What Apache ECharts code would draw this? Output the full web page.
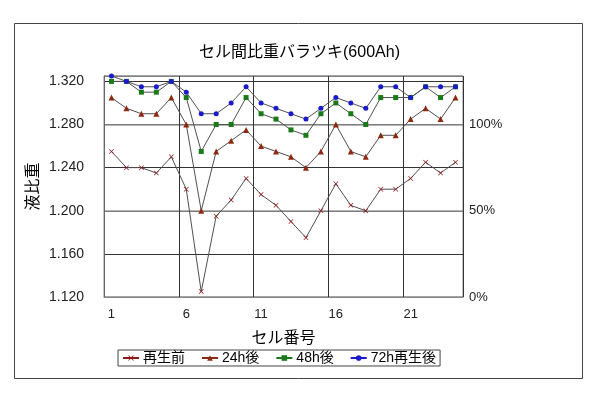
<!DOCTYPE html>
<html><head><meta charset="utf-8">
<script src="https://cdn.jsdelivr.net/npm/echarts@6/dist/echarts.min.js"></script>
<style>html,body{margin:0;padding:0;background:#fff}#c{width:599px;height:393px}</style>
</head><body><div id="c"></div>
<script>
const cells = ['1','2','3','4','5','6','7','8','9','10','11','12','13','14','15','16','17','18','19','20','21','22','23','24'];
const before = [1.255,1.240,1.240,1.235,1.250,1.220,1.125,1.195,1.210,1.230,1.215,1.205,1.190,1.175,1.200,1.225,1.205,1.200,1.220,1.220,1.230,1.245,1.235,1.245];
const h24 = [1.305,1.295,1.290,1.290,1.305,1.280,1.200,1.255,1.265,1.275,1.260,1.255,1.250,1.240,1.255,1.280,1.255,1.250,1.270,1.270,1.285,1.295,1.285,1.305];
const h48 = [1.320,1.320,1.310,1.310,1.320,1.305,1.255,1.280,1.280,1.305,1.290,1.285,1.275,1.270,1.290,1.300,1.290,1.280,1.305,1.305,1.305,1.315,1.305,1.315];
const h72 = [1.325,1.320,1.315,1.315,1.320,1.310,1.290,1.290,1.300,1.315,1.300,1.295,1.290,1.285,1.295,1.305,1.300,1.295,1.315,1.315,1.305,1.315,1.315,1.315];
const seriesNames = ['再生前','24h後','48h後','72h再生後'];
const rightTicks = [0,50,100];

const FONT = "'Liberation Sans', 'Noto Sans CJK JP', sans-serif";
const xPath = 'path://M0,1L1,0L5,4L9,0L10,1L6,5L10,9L9,10L5,6L1,10L0,9L4,5Z';
const colors = ['#8b1a1a','#8b2a10','#1a7a1a','#1a1acc'];
const symbols = [xPath,'triangle','rect','circle'];
const sizes = [5,6,5,5];
const datas = [before,h24,h48,h72];

const chart = echarts.init(document.getElementById('c'));
const series = datas.map((d,i)=>({
  name: seriesNames[i], type:'line', data:d, yAxisIndex:0,
  symbol: symbols[i], symbolSize: sizes[i], showSymbol:true, clip:false,
  itemStyle:{color:colors[i]},
  lineStyle:{color:'#505050', width:1},
  z: 2+i
}));
chart.setOption({
  backgroundColor:'#fff',
  animation:false,
  title:{text:'セル間比重バラツキ(600Ah)', left:'center', top:40,
    textStyle:{fontFamily:FONT, fontSize:16, fontWeight:'normal', color:'#000'}},
  legend:{left:118, top:350, itemWidth:16, itemHeight:7, itemGap:16,
    padding:[1,4,1,4], borderColor:'#444', borderWidth:1,
    textStyle:{fontFamily:FONT, fontSize:14, color:'#000', padding:[0,0,0,-1]},
    data: seriesNames.map((n,i)=>({name:n, lineStyle:{color:colors[i]}}))},
  grid:{left:104, right:136, top:76, bottom:96, show:true, borderColor:'#888', borderWidth:1},
  graphic:[{type:'rect', shape:{x:14.5,y:23.5,width:568,height:355}, style:{fill:null, stroke:'#444', lineWidth:1}, silent:true}],
  xAxis:{type:'category', data:cells, boundaryGap:true,
    name:'セル番号', nameLocation:'middle', nameGap:34,
    nameTextStyle:{fontFamily:FONT, fontSize:16, color:'#000'},
    axisLine:{lineStyle:{color:'#888'}}, axisTick:{show:false},
    axisLabel:{interval:(i)=>i%5===0, margin:11, fontFamily:FONT, fontSize:13, color:'#222'},
    splitLine:{show:true, interval:(i)=>i%5===0, lineStyle:{color:'#333', width:1}}},
  yAxis:[{type:'value', min:1.12, max:1.325, interval:0.04,
    name:'液比重', nameLocation:'middle', nameGap:62, nameRotate:90, nameMoveOverlap:false,
    nameTextStyle:{fontFamily:FONT, fontSize:16, color:'#000'},
    axisLine:{show:true, lineStyle:{color:'#666'}}, axisTick:{show:false},
    axisLabel:{formatter:(v)=>v.toFixed(3), margin:20, fontFamily:FONT, fontSize:14, color:'#222', showMaxLabel:false},
    splitLine:{show:true, lineStyle:{color:'#333', width:1}}},
   {type:'value', min:0, max:128.125, interval:50, position:'right',
    axisLine:{show:false}, axisTick:{show:false},
    axisLabel:{formatter:(v)=>rightTicks.indexOf(v)>=0? v+'%':'', margin:6, fontFamily:FONT, fontSize:13, color:'#222', showMaxLabel:false},
    splitLine:{show:true, lineStyle:{color:'#9a9a9a', width:1.5}}}],
  series: series
});
</script></body></html>
